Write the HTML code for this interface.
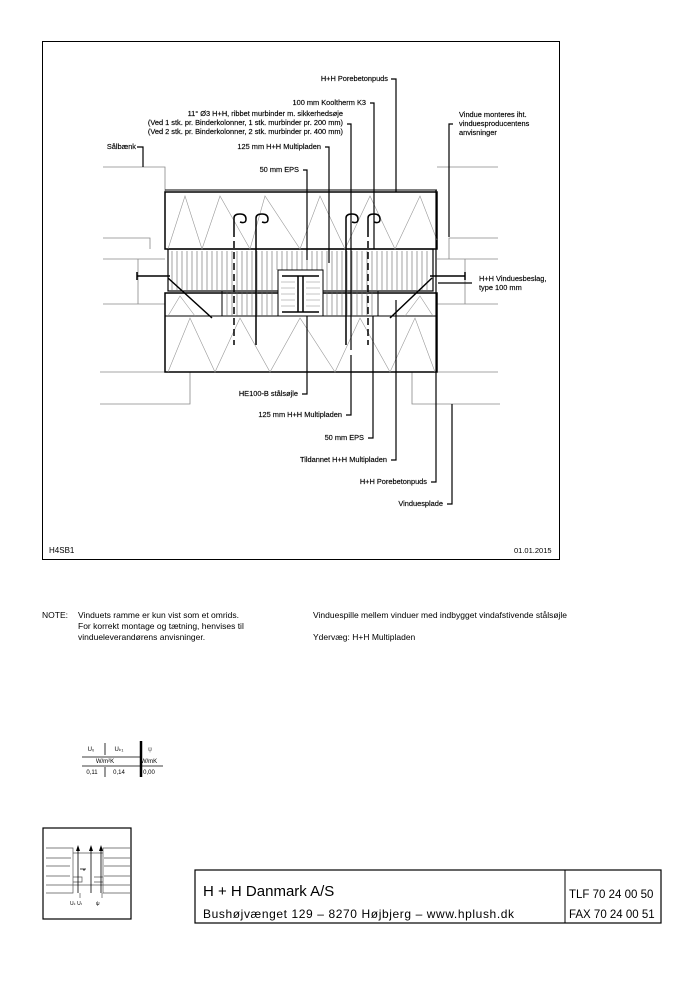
<!DOCTYPE html>
<html><head><meta charset="utf-8"><style>
body{margin:0;background:#fff;}
svg{display:block;font-family:"Liberation Sans",Arial,sans-serif;}
</style></head><body>
<svg width="700" height="991" viewBox="0 0 700 991" xmlns="http://www.w3.org/2000/svg">
<rect x="42.5" y="41.5" width="517" height="518" fill="none" stroke="#000" stroke-width="1"/>
<g stroke="#888" stroke-width="0.8" fill="none">
<path d="M103 167H165V249M103 238H150V249M103 259H165M138 259V304M103 304H165V372M100 372H190V404H100M103 372H165"/>
<path d="M498 167H437M498 238H449V259H437M498 259H437M465 259V304M498 304H437M500 404H412V372M498 372H437"/>
</g>
<g stroke="#000" fill="none">
<rect x="165" y="192" width="272" height="57" stroke-width="1.5"/>
<path d="M165 190H437" stroke-width="1"/>
<rect x="165" y="293" width="272" height="79" stroke-width="1.5"/>
<path d="M165 316H437" stroke-width="1"/>
<rect x="168" y="249" width="265" height="42" stroke-width="1.2"/>
<rect x="222" y="291" width="156" height="25" stroke-width="1"/>
</g>
<g stroke="#999" stroke-width="0.6" fill="none">
<path d="M168 249L185 196L202 249L220 196L250 249L265 196L300 249L320 196L345 249L370 196L395 249L420 196L437 240"/>
<path d="M168 372L190 318L215 372L240 318L270 372L300 318L335 372L360 318L390 372L415 318L435 372"/>
<path d="M168 316L180 296L195 316M405 316L420 296L433 316"/>
</g>
<g stroke="#666" stroke-width="0.6">
<path d="M172 251V290M177 251V290M182 251V290M187 251V290M192 251V290M197 251V290M202 251V290M207 251V290M212 251V290M217 251V290M222 251V290M227 251V316M232 251V316M237 251V316M242 251V316M247 251V316M252 251V316M257 251V316M262 251V316M267 251V316M272 251V316M277 251V270M282 251V270M287 251V270M292 251V270M297 251V270M302 251V270M307 251V270M312 251V270M317 251V270M322 251V270M327 251V316M332 251V316M337 251V316M342 251V316M347 251V316M352 251V316M357 251V316M362 251V316M367 251V316M372 251V316M377 251V290M382 251V290M387 251V290M392 251V290M397 251V290M402 251V290M407 251V290M412 251V290M417 251V290M422 251V290M427 251V290"/>
</g>
<rect x="278" y="270" width="45" height="46" fill="#fff" stroke="#000"/>
<path d="M282 276H319M282 312H319M298 276V312M303 276V312" stroke="#000" stroke-width="1.5" fill="none"/>
<g stroke="#888" stroke-width="0.5"><path d="M281 282H295M281 288H295M281 294H295M281 300H295M281 306H295M306 282H320M306 288H320M306 294H320M306 300H320M306 306H320"/></g>
<g stroke="#000" stroke-width="1.5" fill="none">
<path d="M168 278L212 318M432 278L390 318"/>
<path d="M137 276H170M430 276H465M137 272V280M465 272V280"/>
<path d="M234 230V218Q234 214 240 214Q246 214 246 219Q246 224 240 222M256 345V218Q256 214 262 214Q268 214 268 219Q268 224 262 222M346 345V218Q346 214 352 214Q358 214 358 219Q358 224 352 222M368 230V218Q368 214 374 214Q380 214 380 219Q380 224 374 222"/>
<path d="M234 230V345M368 230V345" stroke-dasharray="7,4"/>
</g>
<g stroke="#000" stroke-width="1.2" fill="none">
<path d="M391 79H396V192M370 103H374V249M347 124H351V350M325 147H329V263M303 170H307V260M137 147H143V167M453 124H449V237M438 283H472M307 316V394H302M351 355V415H346M373 316V438H368M396 300V460H391M436 190V482H431M452 404V504H447"/>
</g>
<g font-size="7.4" fill="#000" text-anchor="end" stroke="#000" stroke-width="0.15">
<text x="388" y="81">H+H Porebetonpuds</text>
<text x="366" y="105">100 mm Kooltherm K3</text>
<text x="343" y="116">11° Ø3 H+H, ribbet murbinder m. sikkerhedsøje</text>
<text x="343" y="125">(Ved 1 stk. pr. Binderkolonner, 1 stk. murbinder pr. 200 mm)</text>
<text x="343" y="134">(Ved 2 stk. pr. Binderkolonner, 2 stk. murbinder pr. 400 mm)</text>
<text x="321" y="149">125 mm H+H Multipladen</text>
<text x="299" y="172">50 mm EPS</text>
<text x="136" y="149">Sålbænk</text>
<text x="298" y="396">HE100-B stålsøjle</text>
<text x="342" y="417">125 mm H+H Multipladen</text>
<text x="364" y="440">50 mm EPS</text>
<text x="387" y="462">Tildannet H+H Multipladen</text>
<text x="427" y="484">H+H Porebetonpuds</text>
<text x="443" y="506">Vinduesplade</text>
</g>
<g font-size="7.4" fill="#000" stroke="#000" stroke-width="0.15">
<text x="459" y="117">Vindue monteres iht.</text>
<text x="459" y="126">vinduesproducentens</text>
<text x="459" y="135">anvisninger</text>
<text x="479" y="281">H+H Vinduesbeslag,</text>
<text x="479" y="290">type 100 mm</text>
</g>
<g fill="#000">
<text x="49" y="553" font-size="8">H4SB1</text>
<text x="514" y="553" font-size="7.5">01.01.2015</text>
<text x="42" y="618" font-size="8.5">NOTE:</text>
<text x="78" y="618" font-size="8.5">Vinduets ramme er kun vist som et omrids.</text>
<text x="78" y="629" font-size="8.5">For korrekt montage og tætning, henvises til</text>
<text x="78" y="640" font-size="8.5">vindueleverandørens anvisninger.</text>
<svg x="0" y="600" width="580" height="50"><text x="313" y="18" font-size="8.5">Vinduespille mellem vinduer med indbygget vindafstivende stålsøjle</text></svg>
<text x="313" y="640" font-size="8.5">Ydervæg:  H+H Multipladen</text>
</g>
<g font-size="6" fill="#000" text-anchor="middle">
<text x="91" y="751">U₀</text><text x="119" y="751">Uₖ₁</text><text x="150" y="751" fill="#666">ψ</text>
<text x="105" y="763">W/m²K</text><text x="149" y="763">W/mK</text>
<text x="92" y="774">0,11</text><text x="119" y="774">0,14</text><text x="149" y="774">0,00</text>
</g>
<g stroke="#000" fill="none">
<path d="M105 743V755M105 767V777M82 766H163M82 757H140" stroke-width="0.8"/>
<path d="M141 741V777" stroke-width="2.5"/>
</g>
<rect x="43" y="828" width="88" height="91" fill="none" stroke="#000" stroke-width="1.2"/>
<g stroke="#555" stroke-width="0.7" fill="none">
<path d="M46 848H73V893H46M46 858H71M46 866H70M46 876H70M46 885H73M130 848H103V893H130M130 858H104M130 866H104M130 876H104M130 885H103M73 853H103M73 877H82V882H73M94 877H103V882H94M73 885H103M80 893V898M102 893V898"/>
<path d="M83 870H85M80 869H86" stroke="#000"/>
</g>
<g stroke="#000" stroke-width="0.8"><path d="M78 893V848M91 893V848M101 893V848"/></g>
<g fill="#000"><path d="M76 851L78 845L80 851ZM89 851L91 845L93 851ZM99 851L101 845L103 851Z"/></g>
<g font-size="5" fill="#000"><text x="70" y="905">Uₖ Uₜ</text><text x="96" y="905">ψ</text></g>
<rect x="195" y="870" width="466" height="53" fill="none" stroke="#000" stroke-width="1.2"/>
<path d="M565 870V923" stroke="#000"/>
<text x="203" y="896" font-size="15">H + H Danmark A/S</text>
<text x="203" y="918" font-size="12" letter-spacing="0.6">Bushøjvænget 129  –  8270  Højbjerg  –  www.hplush.dk</text>
<text x="569" y="898" font-size="11.5">TLF 70 24 00 50</text>
<text x="569" y="918" font-size="11.5">FAX 70 24 00 51</text>
</svg>
</body></html>
